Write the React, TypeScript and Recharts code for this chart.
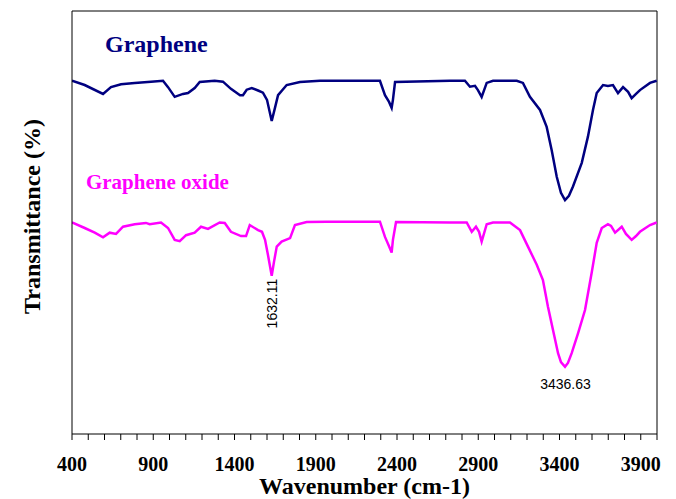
import React from 'react';
import { LineChart, Line, XAxis, YAxis, ReferenceLine, ReferenceDot, Label } from 'recharts';

// Graphene spectrum: [wavenumber, transmittance]
const grapheneWn = [400, 478, 591, 640, 702, 786, 886, 960, 991, 1032, 1083, 1114, 1155, 1186, 1278, 1329, 1378, 1434, 1452, 1475, 1506, 1545, 1575, 1600, 1629, 1649, 1668, 1721, 1803, 1926, 2295, 2326, 2351, 2367, 2375, 2388, 2726, 2818, 2849, 2880, 2898, 2921, 2952, 2991, 3137, 3175, 3218, 3280, 3321, 3352, 3383, 3409, 3434, 3458, 3483, 3537, 3575, 3606, 3629, 3668, 3698, 3729, 3760, 3791, 3822, 3844, 3871, 3895, 3957, 3998];
const grapheneT = [83.5, 82.5, 80.4, 82.0, 82.7, 83.0, 83.3, 83.5, 82.0, 79.7, 80.4, 80.6, 81.8, 83.2, 83.5, 83.3, 81.6, 80.1, 80.1, 81.4, 81.8, 81.2, 80.7, 79.0, 74.0, 77.1, 80.1, 82.5, 83.2, 83.5, 83.5, 80.1, 78.5, 77.1, 79.0, 83.2, 83.5, 83.5, 82.1, 82.3, 81.3, 79.7, 83.0, 83.5, 83.5, 83.0, 79.7, 76.6, 72.6, 67.1, 60.8, 57.0, 55.3, 56.3, 58.5, 64.1, 70.3, 76.6, 80.6, 82.5, 82.3, 82.5, 80.6, 82.0, 80.9, 79.4, 80.4, 81.3, 83.0, 83.5];

// Graphene oxide spectrum
const goWn = [400, 478, 540, 591, 632, 671, 714, 786, 855, 878, 948, 991, 1032, 1063, 1102, 1155, 1194, 1237, 1309, 1340, 1378, 1440, 1471, 1494, 1545, 1569, 1588, 1606, 1629, 1643, 1660, 1690, 1742, 1772, 1844, 1967, 2295, 2326, 2351, 2367, 2375, 2394, 2726, 2829, 2860, 2886, 2905, 2921, 2952, 2991, 3095, 3157, 3206, 3260, 3298, 3329, 3360, 3391, 3409, 3434, 3452, 3475, 3514, 3557, 3598, 3629, 3660, 3698, 3717, 3742, 3783, 3809, 3844, 3871, 3895, 3957, 3998];
const goT = [50.0, 48.7, 47.6, 46.5, 47.6, 47.3, 49.0, 49.6, 49.9, 49.6, 50.0, 48.7, 45.9, 45.6, 47.0, 47.6, 49.0, 48.5, 50.0, 49.9, 47.8, 46.8, 46.8, 49.4, 48.2, 47.8, 45.9, 42.3, 37.4, 40.7, 44.3, 45.5, 46.3, 49.4, 50.1, 50.2, 50.2, 46.6, 44.4, 42.9, 45.9, 50.1, 50.0, 50.0, 47.8, 49.0, 47.8, 45.5, 49.6, 50.0, 50.0, 48.2, 44.3, 40.0, 36.4, 30.1, 24.6, 19.1, 17.0, 15.9, 16.8, 19.1, 23.8, 29.3, 38.1, 45.2, 48.7, 49.6, 49.2, 47.6, 49.0, 47.3, 45.9, 46.8, 47.8, 49.4, 50.0];

const xTicks = [400, 500, 600, 700, 800, 900, 1000, 1100, 1200, 1300, 1400, 1500, 1600, 1700, 1800, 1900, 2000, 2100, 2200, 2300, 2400, 2500, 2600, 2700, 2800, 2900, 3000, 3100, 3200, 3300, 3400, 3500, 3600, 3700, 3800, 3900, 4000];
const xLabels = [400, 900, 1400, 1900, 2400, 2900, 3400, 3900];

const seriesNames = ['Graphene', 'Graphene oxide'];
const peakLabels = [
  { wn: 1632.11, t: 37.4, text: '1632.11' },
  { wn: 3436.63, t: 15.9, text: '3436.63' },
];
const nameAnchors = [
  { wn: 603, t: 90.3 },
  { wn: 486, t: 57.9 },
];

const grapheneData = grapheneWn.map((wn, i) => ({ wn, t: grapheneT[i] }));
const goData = goWn.map((wn, i) => ({ wn, t: goT[i] }));

const NAVY = '#000080';
const MAGENTA = '#FF00FF';
const SERIF = '"Liberation Serif", "Times New Roman", serif';
const SANS = '"Liberation Sans", Arial, sans-serif';

export default function App() {
  return (
    <LineChart width={660} height={491} margin={{ top: 3, right: 11, left: 0, bottom: 0 }}>
      <XAxis
        type="number"
        dataKey="wn"
        domain={[400, 4000]}
        ticks={xTicks}
        interval={0}
        tickFormatter={(v: number) => (xLabels.includes(v) ? String(v) : '')}
        stroke="#000"
        tickSize={6}
        tickMargin={17}
        height={65}
        tick={{ fill: '#000', fontSize: 20, fontWeight: 'bold', fontFamily: SERIF }}
        allowDataOverflow
      >
        <Label
          content={(props: any) => {
            const vb = props.viewBox;
            return (
              <text x={vb.x + vb.width / 2} y={vb.y + vb.height - 5} textAnchor="middle" fontSize={24} fontWeight="bold" fontFamily={SERIF} fill="#000">
                Wavenumber (cm-1)
              </text>
            );
          }}
        />
      </XAxis>
      <YAxis type="number" domain={[0, 100]} tick={false} tickLine={false} width={64} stroke="#000">
        <Label
          content={(props: any) => {
            const vb = props.viewBox;
            const cx = vb.x + 32;
            const cy = vb.y + vb.height / 2 - 6;
            return (
              <text x={cx} y={cy} transform={`rotate(-90, ${cx}, ${cy})`} textAnchor="middle" fontSize={24} fontWeight="bold" fontFamily={SERIF} fill="#000">
                Transmittance (%)
              </text>
            );
          }}
        />
      </YAxis>
      <ReferenceLine y={100} stroke="#000" />
      <ReferenceLine x={4000} stroke="#000" />
      <Line data={grapheneData} dataKey="t" stroke={NAVY} strokeWidth={2.5} dot={false} isAnimationActive={false} type="linear" />
      <Line data={goData} dataKey="t" stroke={MAGENTA} strokeWidth={2.5} dot={false} isAnimationActive={false} type="linear" />
      <ReferenceDot
        x={nameAnchors[0].wn}
        y={nameAnchors[0].t}
        r={0}
        fill="none"
        stroke="none"
        label={(p: any) => (
          <text x={p.viewBox.x} y={p.viewBox.y} fontSize={24} fontWeight="bold" fontFamily={SERIF} fill={NAVY}>
            {seriesNames[0]}
          </text>
        )}
      />
      <ReferenceDot
        x={nameAnchors[1].wn}
        y={nameAnchors[1].t}
        r={0}
        fill="none"
        stroke="none"
        label={(p: any) => (
          <text x={p.viewBox.x} y={p.viewBox.y} fontSize={21} fontWeight="bold" fontFamily={SERIF} fill={MAGENTA}>
            {seriesNames[1]}
          </text>
        )}
      />
      <ReferenceDot
        x={peakLabels[0].wn}
        y={peakLabels[0].t}
        r={0}
        fill="none"
        stroke="none"
        label={(p: any) => {
          const x = p.viewBox.x + 5;
          const y = p.viewBox.y + 3;
          return (
            <text x={x} y={y} transform={`rotate(-90, ${x}, ${y})`} textAnchor="end" fontSize={14} fontFamily={SANS} fill="#000">
              {peakLabels[0].text}
            </text>
          );
        }}
      />
      <ReferenceDot
        x={peakLabels[1].wn}
        y={peakLabels[1].t}
        r={0}
        fill="none"
        stroke="none"
        label={(p: any) => (
          <text x={p.viewBox.x} y={p.viewBox.y + 22} textAnchor="middle" fontSize={14} fontFamily={SANS} fill="#000">
            {peakLabels[1].text}
          </text>
        )}
      />
    </LineChart>
  );
}
